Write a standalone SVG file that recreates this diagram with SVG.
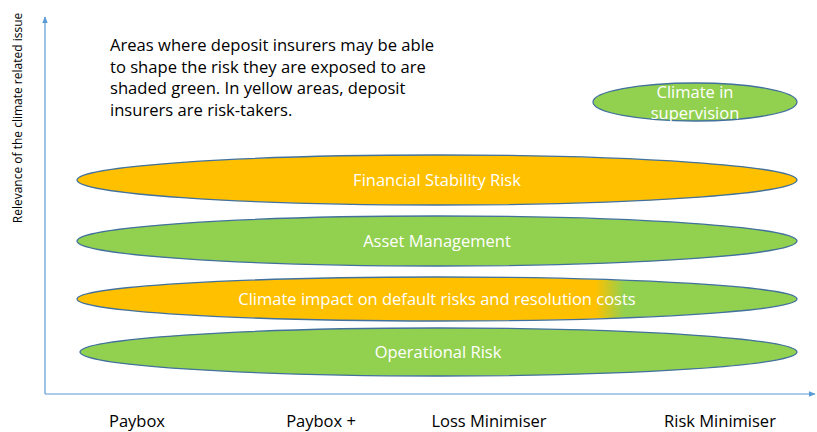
<svg xmlns="http://www.w3.org/2000/svg" width="817" height="432" viewBox="0 0 817 432">
<style>
.ell{stroke:#41719C;stroke-width:1.3}
.g{fill:#92D050}
.y{fill:#FFC000}
.wt{font-family:"Open Sans","Liberation Sans",sans-serif;font-size:16.5px;fill:#ffffff;text-anchor:middle}
.bt{font-family:"Open Sans","Liberation Sans",sans-serif;font-size:16.6px;fill:#000000}
.xl{font-family:"Open Sans","Liberation Sans",sans-serif;font-size:16.5px;fill:#000000;text-anchor:middle}
.ax{stroke:#5B9BD5;stroke-width:1.2;fill:none}
</style>
<defs>
<marker id="arr" viewBox="0 0 10 10" refX="9" refY="5" markerWidth="6" markerHeight="6" orient="auto">
<path d="M0,1 L10,5 L0,9 z" fill="#5B9BD5"/>
</marker>
<linearGradient id="gy" x1="77" y1="0" x2="797" y2="0" gradientUnits="userSpaceOnUse">
<stop offset="0.72" stop-color="#FFC000"/>
<stop offset="0.76" stop-color="#92D050"/>
</linearGradient>
</defs>
<g id="connectors">
<line class="ax" x1="45" y1="394" x2="45" y2="17" marker-end="url(#arr)"/>
<line class="ax" x1="45" y1="394" x2="815" y2="394" marker-end="url(#arr)"/>
</g>
<text transform="translate(22,118) rotate(-90)" text-anchor="middle" style="font-family:'Open Sans','Liberation Sans',sans-serif;font-size:12px;fill:#000">Relevance of the climate related issue</text>
<g id="note">
<text class="bt" x="110" y="51">Areas where deposit insurers may be able</text>
<text class="bt" x="110" y="72.5">to shape the risk they are exposed to are</text>
<text class="bt" x="110" y="94">shaded green. In yellow areas, deposit</text>
<text class="bt" x="110" y="115.5">insurers are risk-takers.</text>
</g>
<g id="climate-supervision">
<ellipse class="ell g" cx="695" cy="102" rx="102" ry="19"/>
<text class="wt" x="695" y="98">Climate in</text>
<text class="wt" x="695" y="119">supervision</text>
</g>
<g id="financial-stability">
<ellipse class="ell y" cx="437" cy="180" rx="360" ry="25"/>
<text class="wt" x="437" y="186">Financial Stability Risk</text>
</g>
<g id="asset-management">
<ellipse class="ell g" cx="437" cy="241" rx="360" ry="25"/>
<text class="wt" x="437" y="247">Asset Management</text>
</g>
<g id="climate-impact">
<ellipse class="ell" fill="url(#gy)" cx="437" cy="299" rx="360" ry="22"/>
<text class="wt" x="437" y="305">Climate impact on default risks and resolution costs</text>
</g>
<g id="operational-risk">
<ellipse class="ell g" cx="438.5" cy="352" rx="358.5" ry="24"/>
<text class="wt" x="438" y="358">Operational Risk</text>
</g>
<g id="x-labels">
<text class="xl" x="137" y="427">Paybox</text>
<text class="xl" x="321" y="427">Paybox +</text>
<text class="xl" x="489" y="427">Loss Minimiser</text>
<text class="xl" x="720" y="427">Risk Minimiser</text>
</g>
</svg>
